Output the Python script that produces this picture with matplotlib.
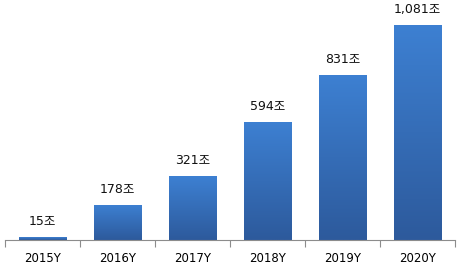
import numpy as np
import matplotlib
matplotlib.use("Agg")
import matplotlib.pyplot as plt
from matplotlib.colors import LinearSegmentedColormap

plt.rcParams['font.family'] = ['DejaVu Sans', 'Noto Sans CJK KR']

years = ['2015Y', '2016Y', '2017Y', '2018Y', '2019Y', '2020Y']
values = [15, 178, 321, 594, 831, 1081]
labels = ['15조', '178조', '321조', '594조', '831조', '1,081조']

fig = plt.figure(figsize=(4.61, 2.67), dpi=100)
ax = fig.add_axes([5/461, 1 - 240/267, 450/461, 235/267])

x = np.arange(len(years))
bars = ax.bar(x, values, width=0.63, color='#3978c8')

# vertical gradient on each bar
cmap = LinearSegmentedColormap.from_list('g', ['#2d5a9c', '#3d80d2'])
grad = np.linspace(0, 1, 100).reshape(-1, 1)
for b in bars:
    x0, w, h = b.get_x(), b.get_width(), b.get_height()
    im = ax.imshow(grad, cmap=cmap, aspect='auto', origin='lower',
                   extent=[x0, x0 + w, 0, h], zorder=2)
    im.set_clip_path(b)
    b.set_facecolor('none')

for xi, v, lab in zip(x, values, labels):
    ax.text(xi, v + 45, lab, ha='center', va='bottom', fontsize=9, color='#111111')

ax.set_xlim(-0.5, len(years) - 0.5)
ax.set_ylim(0, 1180)
ax.set_yticks([])
ax.set_xticks(np.arange(len(years) + 1) - 0.5)
ax.set_xticklabels([])
ax.set_xticks(x, minor=True)
ax.set_xticklabels(years, minor=True, fontsize=8.5)
ax.tick_params(axis='x', which='minor', length=0, pad=9)
ax.tick_params(axis='x', which='major', length=5, color='#8c8c8c', direction='out')
for s in ['top', 'left', 'right']:
    ax.spines[s].set_visible(False)
ax.spines['bottom'].set_color('#8c8c8c')

fig.savefig('out.png', dpi=100)
